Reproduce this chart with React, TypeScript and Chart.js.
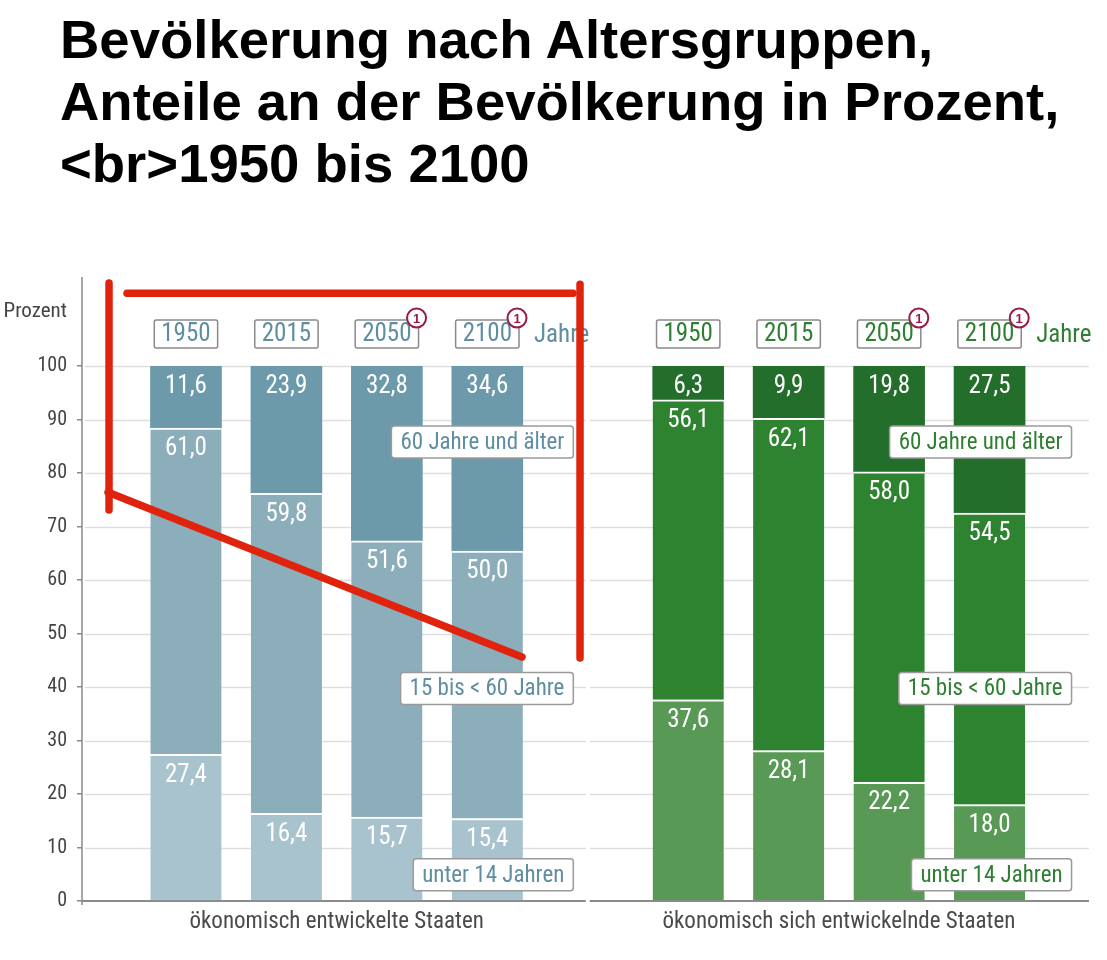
import React, { useEffect, useRef } from "react";
import { Chart, registerables } from "chart.js";

Chart.register(...registerables);

// ---------- data ----------
const titleLines = [
  "Bevölkerung nach Altersgruppen,",
  "Anteile an der Bevölkerung in Prozent,",
  "<br>1950 bis 2100",
];
const years = ["1950", "2015", "2050", "2100"];
const footnoteYears = ["2050", "2100"];
const groupNames = ["ökonomisch entwickelte Staaten", "ökonomisch sich entwickelnde Staaten"];
const ageGroups = ["unter 14 Jahren", "15 bis < 60 Jahre", "60 Jahre und älter"];
const yAxisTitle = "Prozent";
const yearUnit = "Jahre";

const developedUnder15 = [27.4, 16.4, 15.7, 15.4];
const developed15to60 = [61.0, 59.8, 51.6, 50.0];
const developed60plus = [11.6, 23.9, 32.8, 34.6];

const developingUnder15 = [37.6, 28.1, 22.2, 18.0];
const developing15to60 = [56.1, 62.1, 58.0, 54.5];
const developing60plus = [6.3, 9.9, 19.8, 27.5];

const yMin = 0;
const yMax = 100;
const yStep = 10;

// ---------- styles ----------
const NARROW = "'Liberation Sans Narrow', 'Arial Narrow', 'Roboto Condensed', 'DejaVu Sans Condensed', sans-serif";
const groupColors = [
  ["#a8c3cd", "#8baeba", "#6c9aab"],
  ["#589956", "#2e8331", "#246e2b"],
];
const groupTextColors = ["#5e8ea0", "#2f7f33"];
const AXIS = "#8a8a8a";
const GRID = "#dedede";
const RED = "#e0230c";

const seriesByAge = [
  [developedUnder15, developingUnder15],
  [developed15to60, developing15to60],
  [developed60plus, developing60plus],
];

const fmt = (v: number) => v.toFixed(1).replace(".", ",");

function roundRect(ctx: CanvasRenderingContext2D, x: number, y: number, w: number, h: number, r: number) {
  ctx.beginPath();
  ctx.moveTo(x + r, y);
  ctx.lineTo(x + w - r, y);
  ctx.arcTo(x + w, y, x + w, y + r, r);
  ctx.lineTo(x + w, y + h - r);
  ctx.arcTo(x + w, y + h, x + w - r, y + h, r);
  ctx.lineTo(x + r, y + h);
  ctx.arcTo(x, y + h, x, y + h - r, r);
  ctx.lineTo(x, y + r);
  ctx.arcTo(x, y, x + r, y, r);
  ctx.closePath();
}

const decorPlugin = {
  id: "decor",
  beforeDatasetsDraw(chart: any) {
    const { ctx, chartArea, scales } = chart;
    const xs = scales.x;
    const ys = scales.y;
    const mid = xs.getPixelForValue(5);
    ctx.save();
    // gridlines (split between the two panels)
    ctx.strokeStyle = GRID;
    ctx.lineWidth = 1.5;
    for (let v = yMin + yStep; v <= yMax; v += yStep) {
      const y = Math.round(ys.getPixelForValue(v)) + 0.5;
      ctx.beginPath();
      ctx.moveTo(chartArea.left + 3, y);
      ctx.lineTo(mid - 2, y);
      ctx.moveTo(mid + 2, y);
      ctx.lineTo(chartArea.right, y);
      ctx.stroke();
    }
    // y axis line (extends above the plot)
    ctx.strokeStyle = AXIS;
    ctx.lineWidth = 1.5;
    ctx.beginPath();
    ctx.moveTo(chartArea.left, chartArea.top - 89);
    ctx.lineTo(chartArea.left, chartArea.bottom + 4);
    ctx.stroke();
    // baseline
    ctx.lineWidth = 2;
    const y0 = ys.getPixelForValue(0);
    ctx.beginPath();
    ctx.moveTo(chartArea.left, y0);
    ctx.lineTo(mid - 2, y0);
    ctx.moveTo(mid + 2, y0);
    ctx.lineTo(chartArea.right, y0);
    ctx.stroke();
    ctx.restore();
  },
  afterDatasetsDraw(chart: any) {
    const { ctx, chartArea, scales } = chart;
    const xs = scales.x;
    const ys = scales.y;
    ctx.save();

    // value labels
    ctx.fillStyle = "#ffffff";
    ctx.font = `25px ${NARROW}`;
    ctx.textAlign = "center";
    ctx.textBaseline = "middle";
    chart.data.datasets.forEach((ds: any, di: number) => {
      const meta = chart.getDatasetMeta(di);
      meta.data.forEach((el: any, i: number) => {
        const v = ds.data[i].y;
        ctx.fillText(fmt(v), el.x, el.y + 21);
      });
    });

    // year boxes, "Jahre", footnote markers
    const yearCy = chartArea.top - 32;
    for (let g = 0; g < 2; g++) {
      const tc = groupTextColors[g];
      let lastRight = 0;
      years.forEach((yr, i) => {
        const cx = xs.getPixelForValue(g * 5 + i + 1);
        ctx.font = `25px ${NARROW}`;
        const w = ctx.measureText(yr).width + 14;
        const h = 28;
        const bx = cx - w / 2;
        const by = yearCy - h / 2;
        roundRect(ctx, bx, by, w, h, 2);
        ctx.fillStyle = "#fff";
        ctx.fill();
        ctx.strokeStyle = AXIS;
        ctx.lineWidth = 1.5;
        ctx.stroke();
        ctx.fillStyle = tc;
        ctx.textAlign = "center";
        ctx.textBaseline = "middle";
        ctx.fillText(yr, cx, yearCy + 1);
        lastRight = bx + w;
        if (footnoteYears.includes(yr)) {
          const ccx = bx + w - 2;
          const ccy = by - 2;
          ctx.beginPath();
          ctx.arc(ccx, ccy, 9.5, 0, Math.PI * 2);
          ctx.fillStyle = "#fff";
          ctx.fill();
          ctx.strokeStyle = "#9a1b48";
          ctx.lineWidth = 2;
          ctx.stroke();
          ctx.fillStyle = "#9a1b48";
          ctx.font = `bold 13px 'Liberation Sans', Arial, sans-serif`;
          ctx.fillText("1", ccx, ccy + 1);
        }
      });
      ctx.fillStyle = tc;
      ctx.font = `25px ${NARROW}`;
      ctx.textAlign = "left";
      ctx.textBaseline = "middle";
      ctx.fillText(yearUnit, lastRight + 15, yearCy + 2);

      // legend boxes (right aligned to the last bar of the group)
      const rightEdge = xs.getPixelForValue(g * 5 + 4) + (g === 0 ? 86 : 82);
      const legendY = [4.9, 39.7, 85.8];
      ageGroups.forEach((name, a) => {
        ctx.font = `23px ${NARROW}`;
        const w = ctx.measureText(name).width + 18;
        const h = 32;
        const cy = ys.getPixelForValue(legendY[a]);
        roundRect(ctx, rightEdge - w, cy - h / 2, w, h, 3);
        ctx.fillStyle = "#fff";
        ctx.fill();
        ctx.strokeStyle = "#9a9a9a";
        ctx.lineWidth = 1.5;
        ctx.stroke();
        ctx.fillStyle = tc;
        ctx.textAlign = "center";
        ctx.textBaseline = "middle";
        ctx.fillText(name, rightEdge - w / 2, cy + 1);
      });

      // group names under the axis
      ctx.fillStyle = "#4a4a4a";
      ctx.font = `23px ${NARROW}`;
      ctx.textAlign = "center";
      ctx.textBaseline = "middle";
      const gx = (xs.getPixelForValue(g * 5 + 1) + xs.getPixelForValue(g * 5 + 4)) / 2;
      ctx.fillText(groupNames[g], gx, chartArea.bottom + 21);
    }

    // "Prozent"
    ctx.fillStyle = "#444";
    ctx.font = `21px ${NARROW}`;
    ctx.textAlign = "right";
    ctx.textBaseline = "middle";
    ctx.fillText(yAxisTitle, chartArea.left - 15, chartArea.top - 54);

    // red hand-drawn annotation strokes (in scale units)
    const strokes = [
      [0.234, 115.5, 0.234, 73.1],
      [0.413, 113.6, 4.853, 113.6],
      [4.923, 115.3, 4.923, 45.4],
      [0.224, 76.4, 4.345, 45.6],
    ];
    ctx.strokeStyle = RED;
    ctx.lineWidth = 7.5;
    ctx.lineCap = "round";
    strokes.forEach(([x1, y1, x2, y2]) => {
      ctx.beginPath();
      ctx.moveTo(xs.getPixelForValue(x1), ys.getPixelForValue(y1));
      ctx.lineTo(xs.getPixelForValue(x2), ys.getPixelForValue(y2));
      ctx.stroke();
    });

    ctx.restore();
  },
};

export default function App() {
  const canvasRef = useRef<HTMLCanvasElement | null>(null);

  useEffect(() => {
    if (!canvasRef.current) return;
    const datasets = seriesByAge.map((pair, a) => {
      const data = [
        ...pair[0].map((v, i) => ({ x: i + 1, y: v })),
        ...pair[1].map((v, i) => ({ x: i + 6, y: v })),
      ];
      return {
        label: ageGroups[a],
        data,
        backgroundColor: data.map((_, j) => groupColors[j < 4 ? 0 : 1][a]),
        borderColor: "#ffffff",
        borderWidth: { top: a < 2 ? 2 : 0, bottom: 0, left: 0, right: 0 },
        borderSkipped: false,
        barThickness: 71,
      };
    });

    const chart = new Chart(canvasRef.current, {
      type: "bar",
      data: { datasets } as any,
      plugins: [decorPlugin],
      options: {
        animation: false,
        responsive: false,
        devicePixelRatio: 1,
        layout: { padding: { left: 0, top: 366, right: 18, bottom: 59 } },
        plugins: { legend: { display: false }, tooltip: { enabled: false }, title: { display: false } },
        scales: {
          x: {
            type: "linear",
            display: false,
            stacked: true,
            offset: false,
            min: -0.035,
            max: 9.99,
          },
          y: {
            stacked: true,
            min: yMin,
            max: yMax,
            afterFit: (s: any) => {
              s.width = 82;
            },
            border: { display: false },
            grid: {
              drawOnChartArea: false,
              drawTicks: true,
              tickLength: 5,
              color: AXIS,
              lineWidth: 1.5,
            },
            ticks: {
              stepSize: yStep,
              padding: 10,
              color: "#444",
              font: { family: NARROW, size: 20 },
            },
          },
        },
      } as any,
    });
    return () => chart.destroy();
  }, []);

  return (
    <div style={{ position: "absolute", left: 0, top: 0, width: 1107, height: 960, background: "#fff", overflow: "hidden" }}>
      <canvas ref={canvasRef} width={1107} height={960} style={{ position: "absolute", left: 0, top: 0, width: 1107, height: 960 }} />
      <div
        style={{
          position: "absolute",
          left: 60,
          top: 9,
          fontFamily: "'Liberation Sans', Arial, Helvetica, sans-serif",
          fontWeight: 700,
          fontSize: 54.5,
          lineHeight: "62px",
          color: "#000",
          whiteSpace: "pre",
        }}
      >
        {titleLines.map((l, i) => (
          <div key={i}>{l}</div>
        ))}
      </div>
    </div>
  );
}
